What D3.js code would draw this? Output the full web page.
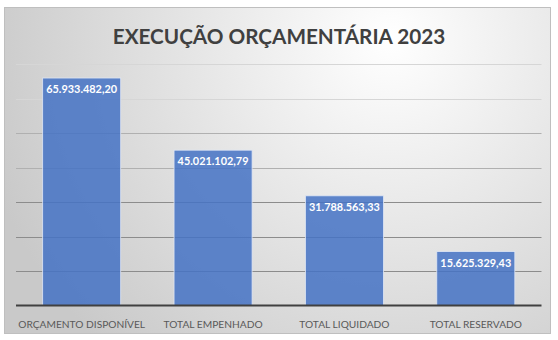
<!DOCTYPE html>
<html>
<head>
<meta charset="utf-8">
<script src="https://cdn.jsdelivr.net/npm/d3@7"></script>
<style>
  html, body { margin: 0; padding: 0; background: #ffffff; }
  svg { display: block; }
  text { font-family: Lato, "Open Sans", sans-serif; }
</style>
</head>
<body>
<svg id="chart" width="558" height="340"></svg>
<script>
// Budget execution figures (R$)
const categories = ["ORÇAMENTO DISPONÍVEL", "TOTAL EMPENHADO", "TOTAL LIQUIDADO", "TOTAL RESERVADO"];
const values = [65933482.20, 45021102.79, 31788563.33, 15625329.43];
const yTicks = [0, 10000000, 20000000, 30000000, 40000000, 50000000, 60000000, 70000000];
const title = "EXECUÇÃO ORÇAMENTÁRIA 2023";

const svg = d3.select("#chart");
const frame = { x: 4.5, y: 7.5, w: 546, h: 326 };
const plot = { left: 16, right: 541.5, top: 64, bottom: 305.5 };

// Background gradient of the chart area
const defs = svg.append("defs");
const grad = defs.append("radialGradient")
  .attr("id", "bg")
  .attr("gradientUnits", "userSpaceOnUse")
  .attr("cx", 390).attr("cy", 40).attr("r", 420);
grad.append("stop").attr("offset", "0%").attr("stop-color", "#ffffff");
grad.append("stop").attr("offset", "100%").attr("stop-color", "#c9c9c9");

svg.append("rect")
  .attr("x", frame.x).attr("y", frame.y)
  .attr("width", frame.w).attr("height", frame.h)
  .attr("fill", "url(#bg)")
  .attr("stroke", "#bfbfbf").attr("stroke-width", 1);

// Title
svg.append("text")
  .attr("x", 279).attr("y", 44)
  .attr("text-anchor", "middle")
  .attr("font-size", 20.7).attr("font-weight", 700)
  .attr("fill", "#404040")
  .text(title);

// Scales
const x = d3.scaleBand()
  .domain(categories)
  .range([plot.left, plot.right])
  .paddingInner(0.406).paddingOuter(0.203);
const y = d3.scaleLinear()
  .domain([0, 70000000])
  .range([plot.bottom, plot.top]);

// Horizontal gridlines
svg.append("g")
  .selectAll("line")
  .data(yTicks.filter(d => d > 0))
  .join("line")
  .attr("x1", plot.left).attr("x2", plot.right)
  .attr("y1", d => Math.round(y(d)) + 0.5).attr("y2", d => Math.round(y(d)) + 0.5)
  .attr("stroke", d => d >= 60000000 ? "#d6d6d6" : (d >= 40000000 ? "#b0b0b0" : "#8c8c8c"))
  .attr("stroke-width", 1);

// Bars
svg.append("g")
  .selectAll("rect")
  .data(values)
  .join("rect")
  .attr("x", (d, i) => x(categories[i]))
  .attr("y", d => y(d))
  .attr("width", x.bandwidth())
  .attr("height", d => plot.bottom - y(d))
  .attr("fill", "#4472c4")
  .attr("fill-opacity", 0.85)
  .attr("stroke", "#dfe6f4")
  .attr("stroke-width", 0.8);

// Value labels inside the top of each bar
const fmt = v => v.toLocaleString("pt-BR", { minimumFractionDigits: 2, maximumFractionDigits: 2 });
svg.append("g")
  .selectAll("text")
  .data(values)
  .join("text")
  .attr("x", (d, i) => x(categories[i]) + x.bandwidth() / 2)
  .attr("y", d => y(d) + 15)
  .attr("text-anchor", "middle")
  .attr("font-size", 10.9).attr("font-weight", 700)
  .attr("fill", "#ffffff")
  .text(d => fmt(d));

// Category axis
const axis = svg.append("g")
  .attr("transform", `translate(0,${plot.bottom})`)
  .call(d3.axisBottom(x).tickSize(0).tickPadding(15));
axis.select(".domain")
  .attr("d", `M${plot.left},0H${plot.right}`)
  .attr("stroke", "#404040").attr("stroke-width", 2);
axis.selectAll("text")
  .attr("font-family", "Lato, 'Open Sans', sans-serif")
  .attr("font-size", 10.2).attr("fill", "#595959");
</script>
</body>
</html>
